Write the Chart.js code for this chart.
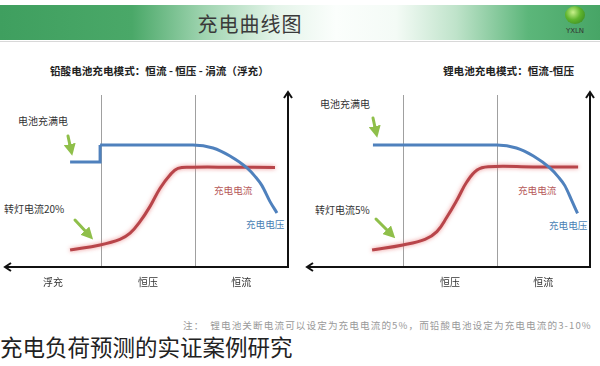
<!DOCTYPE html>
<html><head><meta charset="utf-8">
<script src="https://cdn.jsdelivr.net/npm/chart.js@4"></script>
<style>
html,body{margin:0;padding:0;background:#fff;width:600px;height:366px;overflow:hidden;font-family:"Noto Sans CJK SC","Noto Sans",sans-serif;}
#banner{position:absolute;left:0;top:5px;width:600px;height:35px;
background:linear-gradient(to right,#3f9f5f 0%,#4aa868 22%,#9fd4b0 34%,#e4f4e9 46%,#fbfefc 56%,#f4fbf6 66%,#bfe3ca 76%,#5cb67a 88%,#47a566 100%);}
#bline{position:absolute;left:0;top:41px;width:600px;height:1px;background:#d8d8d8;}
#btitle{position:absolute;left:150px;top:9px;width:200px;text-align:center;font-size:20px;color:#3a3a3a;letter-spacing:1px;white-space:nowrap;}
#logo{position:absolute;left:565px;top:6px;width:20px;height:18px;border-radius:50%;background:radial-gradient(circle at 40% 35%,#c8f08a 0%,#5fb52e 45%,#2f7d1e 100%);}
#logotxt{position:absolute;left:560px;top:27px;width:30px;text-align:center;font-size:7px;color:#333;font-family:"DejaVu Sans",sans-serif;}
.t{position:absolute;white-space:nowrap;color:#333;}
canvas{position:absolute;}
#cap{position:absolute;left:0;top:330px;font-size:22.5px;color:#222;white-space:nowrap;}
#note{position:absolute;left:183px;top:318px;font-size:9.6px;color:#9a9a9a;white-space:nowrap;letter-spacing:1.1px;}
</style></head>
<body>
<div id="banner"></div><div id="bline"></div>
<div id="btitle">充电曲线图</div>
<div id="logo"></div><div id="logotxt">YXLN</div>

<div class="t" style="left:50px;top:63px;font-size:10.6px;font-weight:bold;color:#222;">铅酸电池充电模式：恒流 - 恒压 - 涓流（浮充）</div>
<div class="t" style="left:443px;top:63px;font-size:10.6px;font-weight:bold;color:#222;">锂电池充电模式：恒流-恒压</div>

<div class="t" style="left:18px;top:113px;font-size:10px;">电池充满电</div>
<div class="t" style="left:4px;top:201px;font-size:10px;">转灯电流20%</div>
<div class="t" style="left:214px;top:183px;font-size:9.6px;color:#b65a5a;">充电电流</div>
<div class="t" style="left:246px;top:217px;font-size:9.6px;color:#4a7fb5;">充电电压</div>

<div class="t" style="left:320px;top:96px;font-size:10px;">电池充满电</div>
<div class="t" style="left:315px;top:202px;font-size:10px;">转灯电流5%</div>
<div class="t" style="left:518px;top:183px;font-size:9.6px;color:#b65a5a;">充电电流</div>
<div class="t" style="left:549px;top:218px;font-size:9.6px;color:#4a7fb5;">充电电压</div>

<svg width="600" height="366" style="position:absolute;left:0;top:0;pointer-events:none">
 <defs><marker id="ah" markerWidth="4" markerHeight="4" refX="2" refY="2" orient="auto" markerUnits="strokeWidth">
  <path d="M0,0 L4,2 L0,4 z" fill="#8fbf4a"/></marker></defs>
 <g stroke="#8fbf4a" stroke-width="3" stroke-linecap="round" fill="none" marker-end="url(#ah)">
  <line x1="68" y1="136" x2="71" y2="150"/>
  <line x1="75" y1="220" x2="89" y2="235"/>
  <line x1="373" y1="118" x2="376" y2="132"/>
  <line x1="376" y1="219" x2="391" y2="234"/>
 </g>
</svg>

<canvas id="c1" width="300" height="220" style="left:0;top:80px"></canvas>
<canvas id="c2" width="300" height="220" style="left:300px;top:80px"></canvas>

<div id="note">注：　锂电池关断电流可以设定为充电电流的5%，而铅酸电池设定为充电电流的3-10%</div>
<div id="cap">充电负荷预测的实证案例研究</div>

<script>
// ---- data (x: time units measured from the vertical axis, y: relative level) ----
const leadPhaseNames = ['恒流', '恒压', '浮充'];
const leadPhaseBounds = [0, 33, 66, 100];
const liPhaseNames = ['恒流', '恒压'];
const liPhaseBounds = [0, 33, 66, 100];

const leadFloatX = [77, 66.4, 66.4];
const leadFloatY = [60, 60, 69.7];
const leadVoltX = [66.4, 45, 33.6, 26.5, 20.5, 14.5, 11.5, 9.2, 6.4, 3.9];
const leadVoltY = [69.7, 69.7, 69.7, 68, 63.4, 56.6, 51.5, 46.5, 37.5, 30.9];
const leadCurX = [4.6, 20, 33.6, 38.9, 41.7, 45.2, 48.8, 52.3, 55.8, 59.4, 66.4, 77];
const leadCurY = [56.9, 57, 57, 56.4, 52.6, 45, 34.5, 25.9, 19.3, 15.8, 12.6, 9.7];

const liVoltX = [76.7, 45, 32.9, 26, 20, 14.2, 11.2, 8.9, 6.6, 4.4];
const liVoltY = [69.7, 69.7, 69.7, 68, 63.4, 56.6, 51.5, 46.5, 38.5, 30.6];
const liCurX = [4.2, 20, 36, 39.9, 43.5, 47, 50.5, 54.1, 58.3, 66.1, 77];
const liCurY = [57.1, 57.2, 57.3, 55.4, 48.7, 38.3, 28.7, 20.2, 15.8, 12.6, 9.7];

const zip = (xs, ys) => xs.map((x, i) => ({x: x, y: ys[i]}));

const BLUE = '#4f81bd', RED = '#b8454a';

const decor = {
  id: 'decor',
  beforeDatasetsDraw(chart, args, opts) {
    const {ctx, chartArea: a, scales: {x}} = chart;
    ctx.save();
    ctx.strokeStyle = '#a0a0a0'; ctx.lineWidth = 1;
    opts.bounds.slice(1, -1).forEach(b => {
      const px = Math.round(x.getPixelForValue(b)) + 0.5;
      ctx.beginPath(); ctx.moveTo(px, a.top + 3); ctx.lineTo(px, a.bottom); ctx.stroke();
    });
    ctx.restore();
  },
  beforeDatasetDraw(chart, args) {
    const ds = chart.data.datasets[args.index];
    if (ds.glow) { chart.ctx.save(); chart.ctx.shadowColor = 'rgba(235,130,130,0.9)'; chart.ctx.shadowBlur = 4; }
  },
  afterDatasetDraw(chart, args) {
    if (chart.data.datasets[args.index].glow) chart.ctx.restore();
  },
  afterDraw(chart, args, opts) {
    const {ctx, chartArea: a, scales: {x}} = chart;
    ctx.save();
    ctx.strokeStyle = '#111'; ctx.fillStyle = '#111'; ctx.lineWidth = 2;
    ctx.beginPath(); ctx.moveTo(a.right, a.bottom + 1); ctx.lineTo(a.right, a.top + 1); ctx.stroke();
    ctx.beginPath(); ctx.moveTo(a.right - 4, a.top + 6); ctx.lineTo(a.right, a.top); ctx.lineTo(a.right + 4, a.top + 6); ctx.stroke();
    ctx.beginPath(); ctx.moveTo(a.right + 1, a.bottom); ctx.lineTo(a.left + 1, a.bottom); ctx.stroke();
    ctx.beginPath(); ctx.moveTo(a.left + 6, a.bottom - 4); ctx.lineTo(a.left, a.bottom); ctx.lineTo(a.left + 6, a.bottom + 4); ctx.stroke();
    ctx.font = '10px "Noto Sans CJK SC"'; ctx.fillStyle = '#333'; ctx.textAlign = 'center'; ctx.textBaseline = 'middle';
    opts.names.forEach((n, i) => {
      const c = (opts.bounds[i] + opts.bounds[i + 1]) / 2;
      ctx.fillText(n, x.getPixelForValue(c), a.bottom + 15);
    });
    ctx.restore();
  }
};

function make(id, datasets, names, bounds, pad) {
  return new Chart(document.getElementById(id), {
    type: 'line',
    data: {datasets},
    options: {
      responsive: false, animation: false,
      layout: {padding: pad},
      scales: {
        x: {type: 'linear', min: 0, max: 100, reverse: true, display: false},
        y: {min: 0, max: 100, display: false}
      },
      elements: {point: {radius: 0}},
      plugins: {legend: {display: false}, tooltip: {enabled: false}, decor: {names, bounds}}
    },
    plugins: [decor]
  });
}

make('c1', [
  {data: zip(leadFloatX, leadFloatY), borderColor: BLUE, borderWidth: 3, tension: 0},
  {data: zip(leadVoltX, leadVoltY), borderColor: BLUE, borderWidth: 3, cubicInterpolationMode: 'monotone'},
  {data: zip(leadCurX, leadCurY), borderColor: RED, borderWidth: 3, tension: 0.4, glow: true}
], leadPhaseNames, leadPhaseBounds, {left: 5, right: 12, top: 12, bottom: 33});

make('c2', [
  {data: zip(liVoltX, liVoltY), borderColor: BLUE, borderWidth: 3, cubicInterpolationMode: 'monotone'},
  {data: zip(liCurX, liCurY), borderColor: RED, borderWidth: 3, tension: 0.4, glow: true}
], liPhaseNames, liPhaseBounds, {left: 7, right: 10, top: 12, bottom: 33});
</script>
</body></html>
